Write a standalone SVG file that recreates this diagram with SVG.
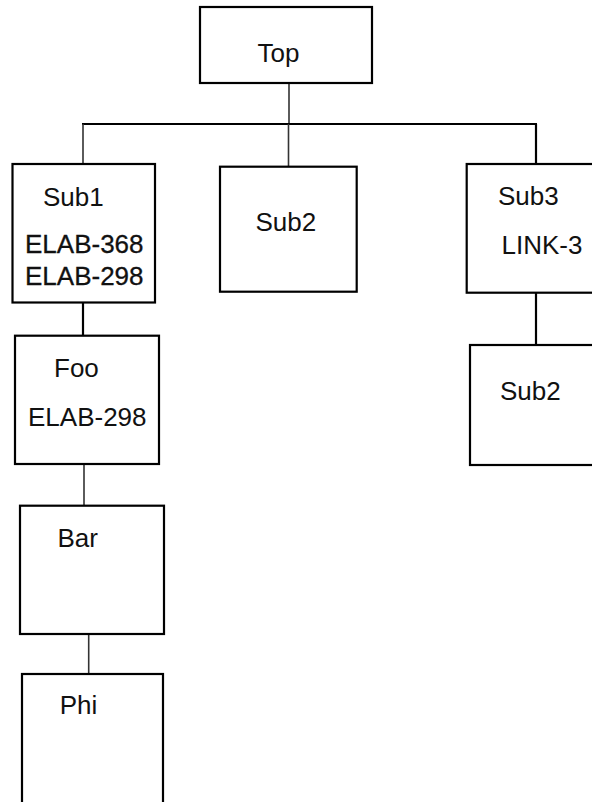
<svg xmlns="http://www.w3.org/2000/svg" width="592" height="802" viewBox="0 0 592 802">
<style>
.box{fill:#fff;stroke:#000;stroke-width:2.2}
.lbl{font-family:"Liberation Sans",Arial,sans-serif;font-size:26px;fill:#111}
.heavy{stroke:#111;stroke-width:0.3}
.conn line{stroke:#333;stroke-width:1.6}
.conn .main{stroke:#000;stroke-width:2.2}
</style>
<rect width="592" height="802" fill="#fff"/>
<g id="connectors" class="conn">
<line x1="289" y1="83" x2="289" y2="124"/>
<line class="main" x1="82" y1="124" x2="537" y2="124"/>
<line x1="83" y1="124" x2="83" y2="164"/>
<line x1="288.5" y1="124" x2="288.5" y2="167"/>
<line class="main" x1="536" y1="124" x2="536" y2="164"/>
<line class="main" x1="83" y1="302.5" x2="83" y2="336"/>
<line x1="84" y1="464" x2="84" y2="506"/>
<line x1="88.7" y1="634" x2="88.7" y2="674"/>
<line class="main" x1="536" y1="292.7" x2="536" y2="345"/>
</g>
<g id="top">
<rect class="box" x="200" y="7" width="172" height="76"/>
<text class="lbl" x="257.5" y="62">Top</text>
</g>
<g id="sub1">
<rect class="box" x="12.5" y="164" width="142.5" height="138.5"/>
<text class="lbl" x="43" y="206">Sub1</text>
<text class="lbl heavy" x="25" y="253">ELAB-368</text>
<text class="lbl heavy" x="25" y="285">ELAB-298</text>
</g>
<g id="sub2">
<rect class="box" x="220" y="166.7" width="136.7" height="125"/>
<text class="lbl" x="255.5" y="231">Sub2</text>
</g>
<g id="sub3">
<rect class="box" x="466.7" y="164" width="140" height="128.7"/>
<text class="lbl" x="498" y="205">Sub3</text>
<text class="lbl" x="501.5" y="254">LINK-3</text>
</g>
<g id="sub2b">
<rect class="box" x="470" y="345" width="140" height="120"/>
<text class="lbl" x="500" y="400">Sub2</text>
</g>
<g id="foo">
<rect class="box" x="15" y="335.7" width="144" height="128.3"/>
<text class="lbl" x="54" y="377">Foo</text>
<text class="lbl" x="28" y="426">ELAB-298</text>
</g>
<g id="bar">
<rect class="box" x="20" y="505.7" width="144" height="128.3"/>
<text class="lbl" x="57.5" y="547">Bar</text>
</g>
<g id="phi">
<rect class="box" x="22" y="674" width="141" height="140"/>
<text class="lbl" x="59.7" y="714">Phi</text>
</g>
</svg>
